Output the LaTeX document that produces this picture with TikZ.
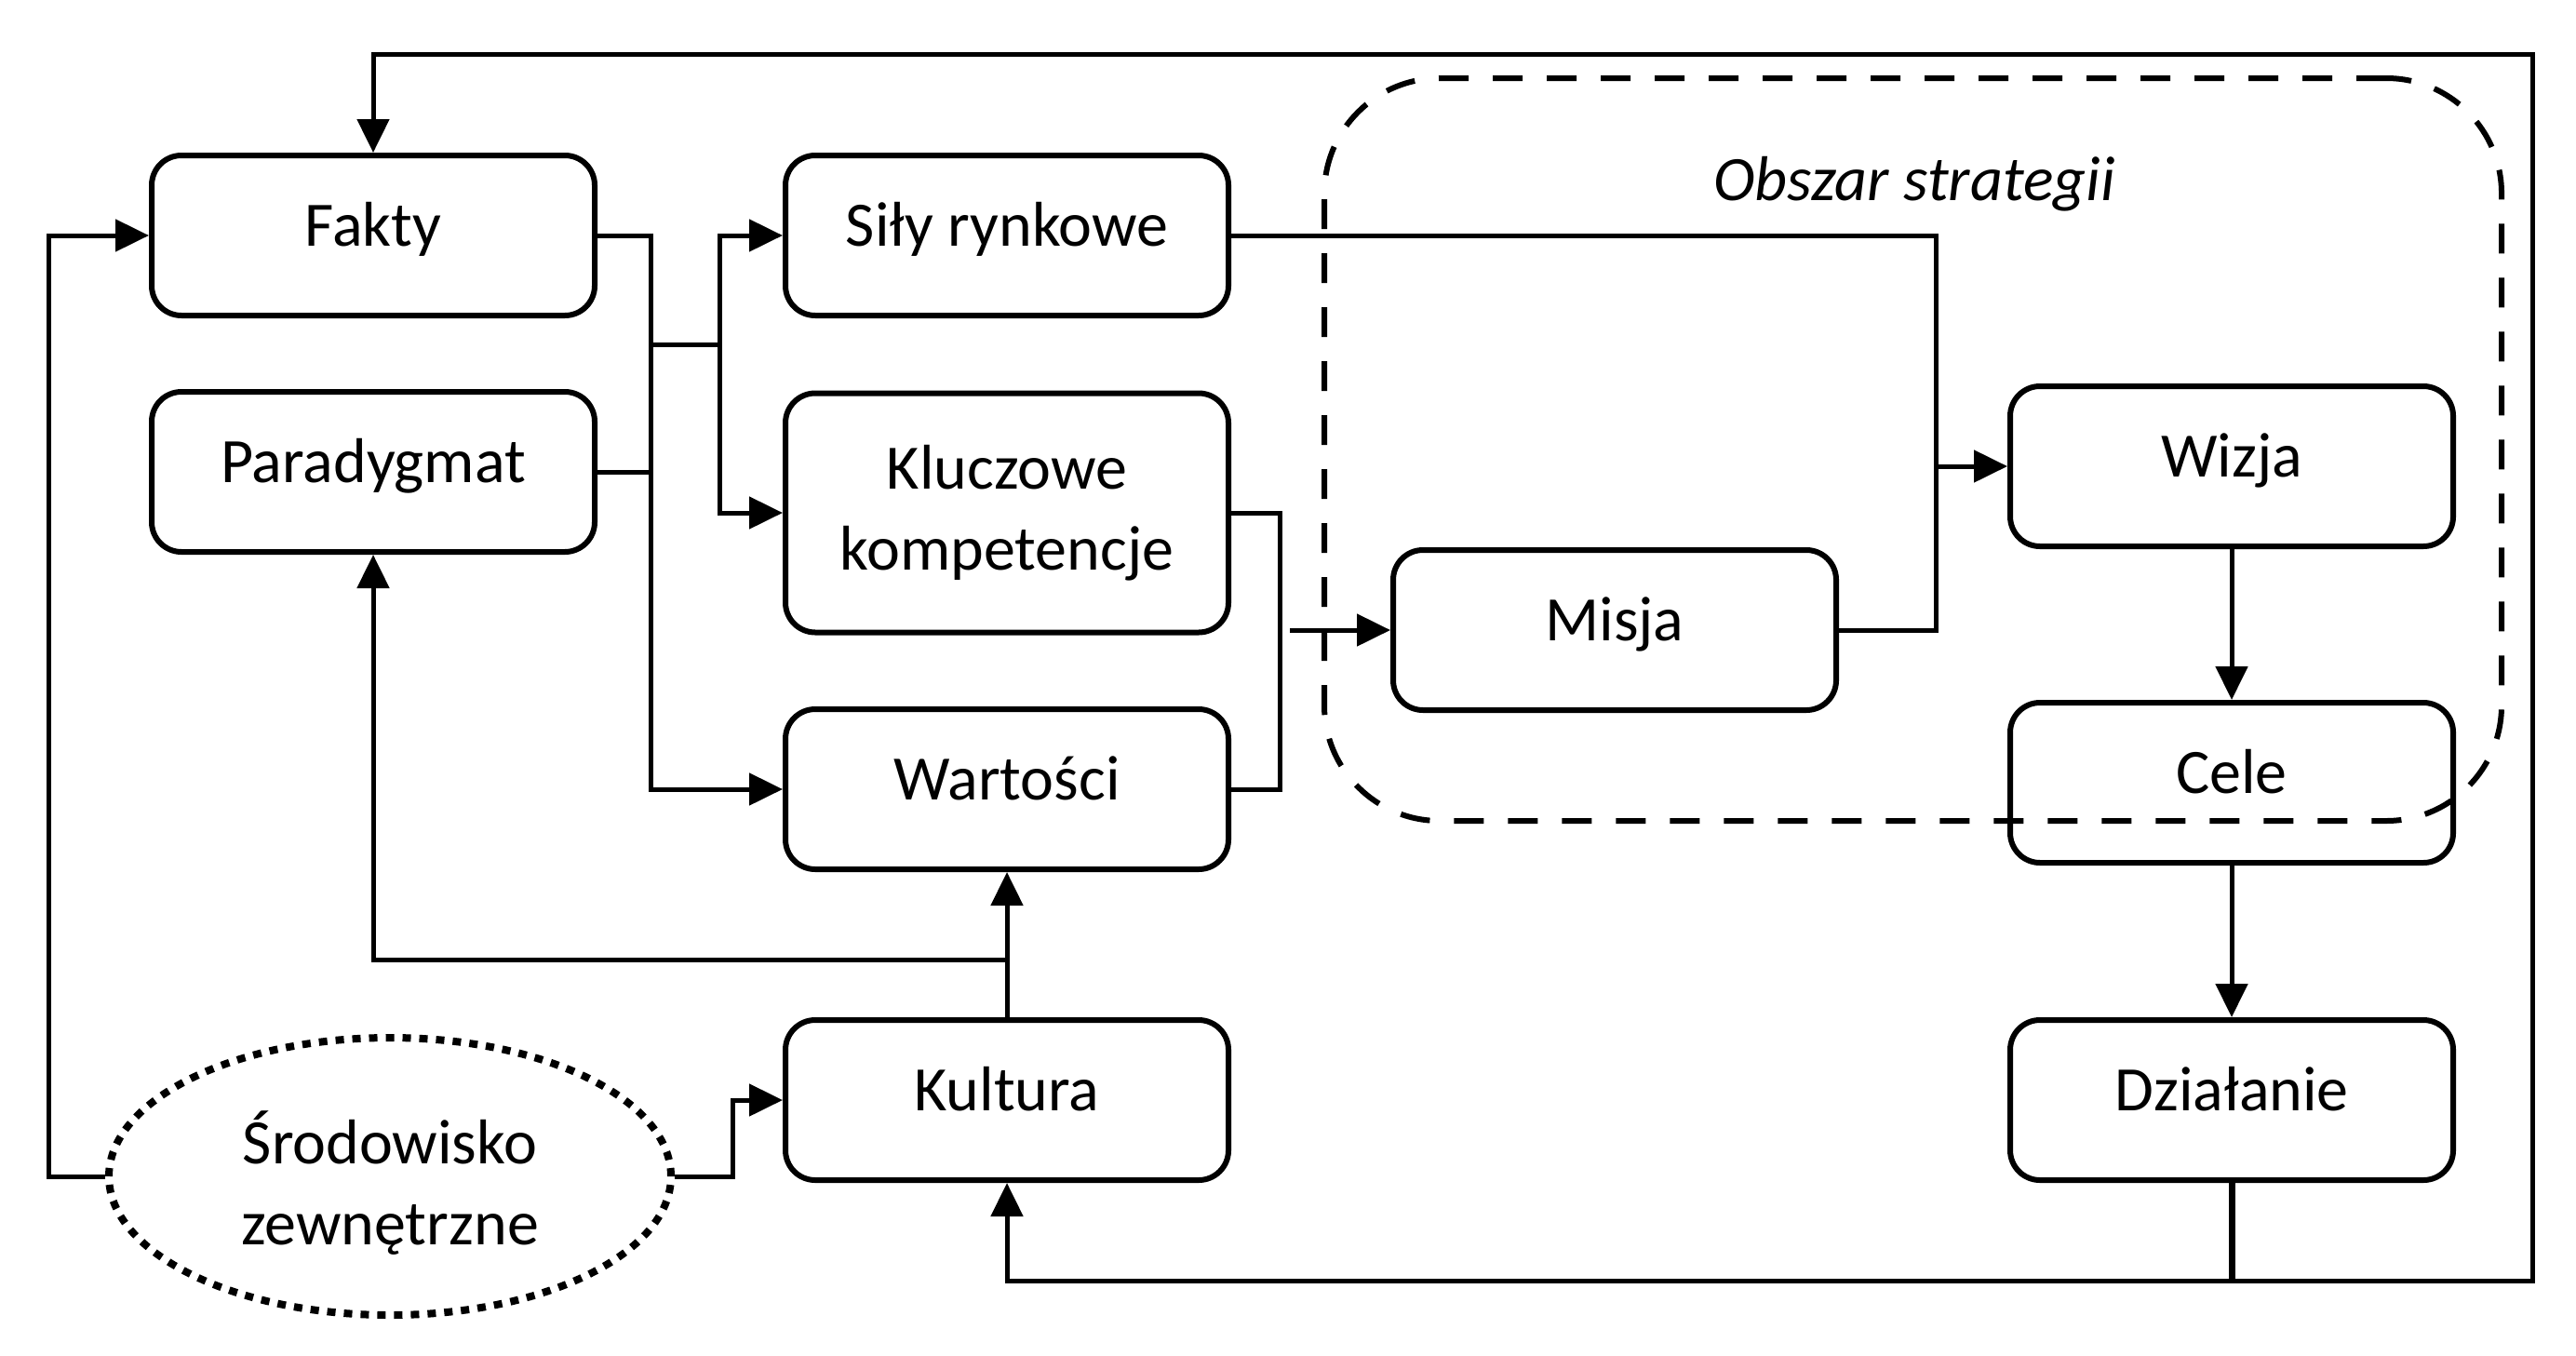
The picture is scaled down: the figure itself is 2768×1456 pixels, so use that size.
\documentclass[tikz,border=0pt]{standalone}
\usepackage{fontspec}
\setmainfont{Carlito}
\usetikzlibrary{arrows.meta,shapes.geometric}
\begin{document}
\begin{tikzpicture}[x=0.25pt,y=-0.25pt,
  txt/.style={font=\fontsize{17}{21.75}\selectfont},
  box/.style={txt, draw, line width=1.5pt, rounded corners=8pt, minimum width=119pt, minimum height=43pt, inner sep=0pt, text height=0.75em, text depth=0.2em, align=center},
  tallbox/.style={box, minimum height=64.25pt, text height={}, text depth={}},
  envnode/.style={draw, ellipse, line width=2pt, dash pattern=on 2.25pt off 2.25pt, minimum width=151pt, minimum height=74.5pt, inner sep=0pt},
  envtext/.style={txt, align=center, inner sep=0pt},
  stratbox/.style={draw, line width=1.5pt, dash pattern=on 8pt off 6.5pt, rounded corners=31pt, minimum width=316.25pt, minimum height=199.5pt, inner sep=0pt},
  ln/.style={line width=1.25pt},
  arr/.style={-{Triangle[length=9pt,width=8.5pt]}}]
\useasboundingbox (0,0) rectangle (2768,1456);
% strategy area
\node[stratbox] (strat) at (2055.5,483) {};
\node[txt, text height=0.75em, text depth=0.2em] (lab) at (2057,204) {\itshape Obszar strategii};
% boxes
\node[box] (fakty) at (401,253) {Fakty};
\node[box] (parad) at (401,507) {Paradygmat};
\node[box] (sily) at (1082,253) {Siły rynkowe};
\node[tallbox] (klucz) at (1082,551) {Kluczowe\\kompetencje};
\node[box] (wart) at (1082,848) {Wartości};
\node[box] (kult) at (1082,1182) {Kultura};
\node[box] (misja) at (1735,677) {Misja};
\node[box] (wizja) at (2398,501) {Wizja};
\node[box] (cele) at (2398,841) {Cele};
\node[box] (dzial) at (2398,1182) {Działanie};
\node[envnode] (env) at (419,1264) {};
\node[envtext] (envt) at (419,1271) {Środowisko\\zewnętrzne};
% junction points
\coordinate (s1) at (700,370);
\coordinate (s2) at (773,370);
\coordinate (m1) at (1386,677);
\coordinate (j2) at (2080,501);
\coordinate (b1) at (2398,1376);
\coordinate (r1) at (2721,1376);
\coordinate (r2) at (2721,58);
\coordinate (k1) at (1082,1031);
% connectors
\draw[ln,arr] (fakty.east) -- ++(57,0) |- (wart.west);
\draw[ln] (parad.east) -- ++(57,0);
\draw[ln] (s1) -- (s2);
\draw[ln,arr] (s2) |- (sily.west);
\draw[ln,arr] (s2) |- (klucz.west);
\draw[ln] (klucz.east) -- ++(52,0) |- (wart.east);
\draw[ln,arr] (m1) -- (misja.west);
\draw[ln] (sily.east) -| (j2) |- (misja.east);
\draw[ln,arr] (j2) -- (wizja.west);
\draw[ln,arr] (wizja.south) -- (cele.north);
\draw[ln,arr] (cele.south) -- (dzial.north);
\draw[line width=1.75pt] (dzial.south) -- (b1);
\draw[ln,arr] (b1) -- (r1) -- (r2) -| (fakty.north);
\draw[ln,arr] (b1) -| (kult.south);
\draw[ln,arr] (kult.north) -- (wart.south);
\draw[ln,arr] (k1) -| (parad.south);
\draw[ln,arr] (env.west) -- ++(-61,0) |- (fakty.west);
\draw[ln,arr] (env.east) -- ++(62,0) |- (kult.west);
\end{tikzpicture}
\end{document}
